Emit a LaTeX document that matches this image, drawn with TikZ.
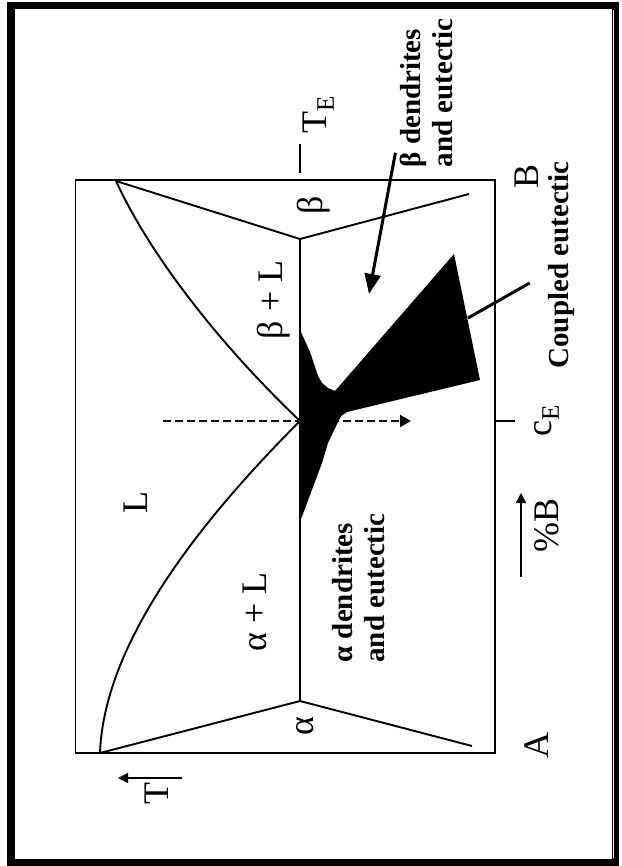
\documentclass[tikz,border=0pt]{standalone}
\usepackage{fontspec}
\setmainfont{Liberation Serif}
\usetikzlibrary{arrows.meta,calc}

\begin{document}
\begin{tikzpicture}[x=1pt,y=-1pt,>={Triangle[length=10pt,width=10pt]},
  phase/.style={line width=1.9pt,line join=round},
  lbl/.style={font=\fontsize{36}{40}\selectfont,inner sep=0pt,rotate=90,anchor=base},
  note/.style={font=\fontsize{29}{32}\selectfont\bfseries,inner sep=0pt,rotate=90,align=left}]
  \useasboundingbox (0,0) rectangle (621,866);
  \draw[line width=7.5pt] (10.8,5.5) rectangle (615.5,862.5);
  \draw[white,line width=1pt] (613.2,10) -- (613.2,858);
  \draw[line width=1.5pt] (75.5,180) rectangle (495,753);

  \coordinate (meltB) at (116,181);
  \coordinate (meltA) at (100,753);
  \coordinate (eut) at (300,421);
  \draw[phase] (300,239) -- (300,701);
  \draw[phase] (meltB) -- (300,239) -- (469,194);
  \draw[phase] (meltA) -- (300,701) -- (472,746);
  \draw[phase] (meltB) .. controls (148,251) and (215,340) .. (eut);
  \draw[phase] (meltA) .. controls (104,640) and (205,516) .. (eut);

  \fill (300,330) -- (310,352) -- (318,376) -- (322,383) -- (328,388) -- (335,391)
    -- (454,254) -- (480,380) -- (347,412) -- (341,416) -- (338,422) -- (328,443)
    -- (322,463) -- (313,487) -- (303,514) -- (300,521) -- cycle;

  \draw[line width=2pt,dash pattern=on 8pt off 4pt,-{Triangle[length=11pt,width=12pt]}]
    (163,421) -- (411,421);
  \draw[phase] (495,421) -- (515,421);
  \draw[phase] (300,144) -- (300,173);

  \node[lbl] (liq) at (147,503) {L};
  \node[lbl] (aliq) at (266,612) {α + L};
  \node[lbl] (bliq) at (282,300) {β + L};
  \node[lbl] (bsol) at (322,205) {β};
  \node[lbl] (asol) at (313,726) {α};
  \node[lbl] (pureA) at (548,745) {A};
  \node[lbl] (pureB) at (538,176) {B};
  \node[lbl] (temp) at (168,793) {T};
  \node[lbl] (compB) at (558,525) {\%B};
  \node[lbl] (cE) at (551,421) {c\textsubscript{E}};
  \node[lbl] (TE) at (326,115) {T\textsubscript{E}};

  \node[note] (alphatxt) at (359,588) {α dendrites\\and eutectic};
  \node[note] (betatxt) at (426,93) {β dendrites\\and eutectic};
  \node[note,anchor=base] (coupled) at (568,265) {Coupled eutectic};

  \coordinate (tempArrow) at (182,778);
  \coordinate (compArrow) at (521,577);
  \draw[line width=1.5pt,->] (tempArrow) -- ++(-64,0);
  \draw[line width=1.5pt,->] (compArrow) -- ++(0,-84);

  \coordinate (betaTip) at (369,294);
  \coordinate (coupledTip) at (468,318);
  \draw[line width=3pt,-{Triangle[length=20pt,width=16pt]}]
    ($(betatxt.north west)+(-4,-15)$) -- (betaTip);
  \draw[line width=3pt] (coupledTip) -- ([shift={(-18,18)}]coupled.north);
\end{tikzpicture}
\end{document}
